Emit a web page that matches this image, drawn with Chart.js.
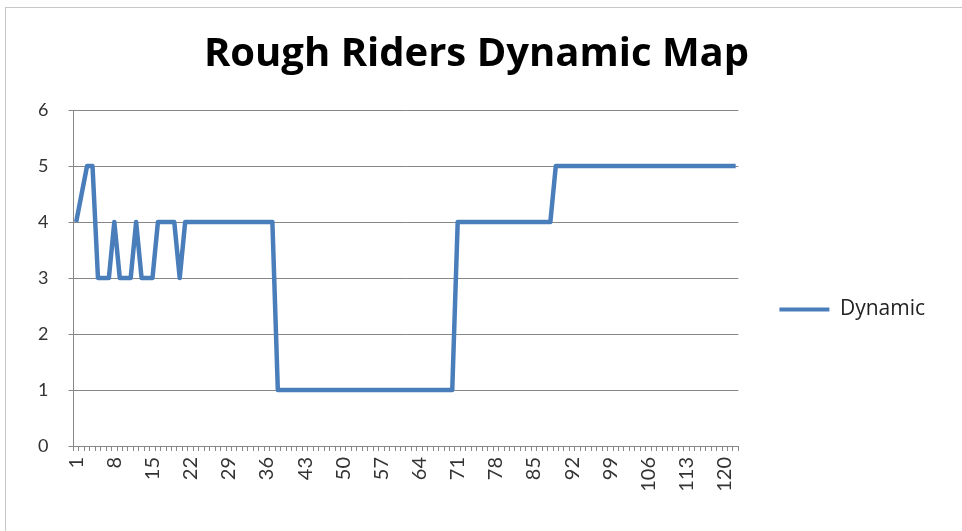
<!DOCTYPE html>
<html>
<head>
<meta charset="utf-8">
<title>Rough Riders Dynamic Map</title>
<script src="https://cdn.jsdelivr.net/npm/chart.js@4.4.1/dist/chart.umd.min.js"></script>
<style>
  html, body { margin: 0; padding: 0; background: #fff; }
  #wrap { position: relative; width: 962px; height: 531px; overflow: hidden; }
  #frame { position: absolute; left: 5px; top: 7px; width: 1000px; height: 600px; border: 1px solid #c8c8c8; pointer-events: none; }
  canvas { position: absolute; left: 0; top: 0; }
</style>
</head>
<body>
<div id="wrap">
  <canvas id="dynamicChart" width="962" height="531"></canvas>
  <div id="frame"></div>
</div>
<script>
// --- dados ---
const categories = Array.from({ length: 122 }, (_, i) => i + 1);

const dynamicValues = [
  4, 4.5, 5, 5, 3, 3, 3, 4, 3, 3,
  3, 4, 3, 3, 3, 4, 4, 4, 4, 3,
  4, 4, 4, 4, 4, 4, 4, 4, 4, 4,
  4, 4, 4, 4, 4, 4, 4, 1, 1, 1,
  1, 1, 1, 1, 1, 1, 1, 1, 1, 1,
  1, 1, 1, 1, 1, 1, 1, 1, 1, 1,
  1, 1, 1, 1, 1, 1, 1, 1, 1, 1,
  4, 4, 4, 4, 4, 4, 4, 4, 4, 4,
  4, 4, 4, 4, 4, 4, 4, 4, 5, 5,
  5, 5, 5, 5, 5, 5, 5, 5, 5, 5,
  5, 5, 5, 5, 5, 5, 5, 5, 5, 5,
  5, 5, 5, 5, 5, 5, 5, 5, 5, 5,
  5, 5
];

// rótulos que aparecem no eixo X (a cada 7)
const shownTicks = [1, 8, 15, 22, 29, 36, 43, 50, 57, 64, 71, 78, 85, 92, 99, 106, 113, 120];
const yTicks = [0, 1, 2, 3, 4, 5, 6];

const lineColor = '#4a7ebb';
const gridColor = '#878787';
const font = 'Lato';

// move a legenda um pouco para baixo, como no Excel
const legendShift = {
  id: 'legendShift',
  afterLayout(chart) {
    chart.legend.top += 44;
    chart.legend.bottom += 44;
  }
};

const ctx = document.getElementById('dynamicChart').getContext('2d');
new Chart(ctx, {
  type: 'line',
  data: {
    labels: categories,
    datasets: [{
      label: 'Dynamic',
      data: dynamicValues,
      borderColor: lineColor,
      backgroundColor: lineColor,
      borderWidth: 4.5,
      borderJoinStyle: 'round',
      pointRadius: 0,
      tension: 0
    }]
  },
  options: {
    responsive: false,
    animation: false,
    layout: { padding: { left: 18, right: 27, top: 0, bottom: 0 } },
    plugins: {
      title: {
        display: true,
        text: 'Rough Riders Dynamic Map',
        color: '#000',
        font: { family: 'Open Sans', size: 40, weight: 'bold' },
        padding: { top: 31, bottom: 31 }
      },
      legend: {
        position: 'right',
        labels: {
          boxWidth: 50,
          boxHeight: 4,
          padding: 41,
          color: '#222',
          font: { family: 'Open Sans', size: 21 },
          generateLabels: (chart) => chart.data.datasets.map((ds, i) => ({
            text: ds.label,
            fillStyle: ds.borderColor,
            strokeStyle: ds.borderColor,
            lineWidth: 0,
            fontColor: '#222',
            hidden: false,
            datasetIndex: i
          }))
        }
      },
      tooltip: { enabled: false }
    },
    scales: {
      x: {
        offset: true,
        grid: { offset: true, drawOnChartArea: false, tickLength: 5, color: gridColor },
        border: { color: gridColor },
        ticks: {
          autoSkip: false,
          minRotation: 90,
          maxRotation: 90,
          padding: 6,
          color: '#333',
          font: { family: font, size: 20 },
          callback: function (value) {
            const lab = this.getLabelForValue(value);
            return shownTicks.includes(lab) ? String(lab) : '';
          }
        },
        afterFit: (scale) => { scale.height = 85; }
      },
      y: {
        min: yTicks[0],
        max: yTicks[yTicks.length - 1],
        grid: { color: gridColor, tickLength: 5 },
        border: { color: gridColor },
        ticks: {
          stepSize: 1,
          padding: 20,
          color: '#333',
          font: { family: font, size: 18 }
        }
      }
    }
  },
  plugins: [legendShift]
});
</script>
</body>
</html>
